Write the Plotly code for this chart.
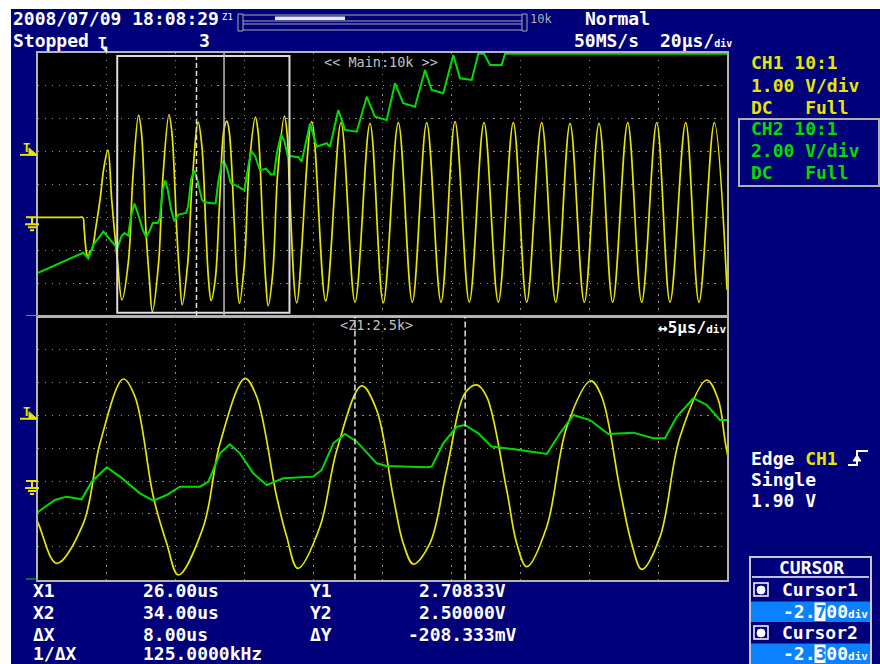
import plotly.graph_objects as go

# ---------------- acquisition record (time in µs from trigger, volts) ----------------
ch1_t = [-20.0, -12.0, -8.0, -7.0, -6.6, -5.9, -5.4, -4.9, -4.4, -3.2, -2.0, -0.9, 0.3, 1.4, 3.02,
         4.36, 6.29, 7.50, 9.19, 10.04, 11.37,
         12.34, 13.18, 15.0, 16.21, 18.02, 18.87, 20.32, 21.05, 21.85, 23.46, 24.68, 26.49,
         27.58, 28.78, 29.51, 30.24, 31.45, 32.66, 33.99, 34.84, 35.56, 37.01, 37.74, 38.47,
         39.92, 41.37, 43.11, 43.91, 45.24, 46.08, 46.81, 48.14, 49.59, 51.53, 52.37, 52.98,
         55.1, 59.45, 63.51, 67.95, 72.02, 76.37, 80.23, 84.59, 88.65, 92.83, 96.98, 101.05,
         105.2, 109.46, 113.62, 117.97, 121.86, 126.21, 130.28, 134.43, 138.58, 142.85,
         146.82, 151.18, 155.24, 159.6, 163.46, 168.01, 171.87, 176.32, 180.0]
ch1_v = [0.0, 0.0, 0.0, 0.0, -0.35, -1.10, -1.24, -1.02, -0.99, -0.30, 0.53, 1.50, 2.05, 0.53, -1.29,
         -2.51, -1.29, 1.15, 3.11, 2.57, -0.48,
         -1.90, -2.86, -1.39, 1.15, 3.13, 2.57, -0.48, -1.70, -2.66, -1.39, 0.94, 2.90,
         2.16, -0.48, -1.90, -2.53, -1.89, 0.34, 2.68, 2.93, 2.57, -0.27, -1.90, -2.61,
         -1.39, 1.65, 3.05, 2.57, -0.27, -1.90, -2.69, -1.70, 1.35, 3.08, 2.47, 0.94,
         -2.60, 2.91, -2.54, 2.88, -2.58, 2.86, -2.60, 2.88, -2.58, 2.88, -2.58, 2.91,
         -2.58, 2.88, -2.58, 2.88, -2.58, 2.88, -2.58, 2.86, -2.58, 2.86,
         -2.58, 2.88, -2.58, 2.88, -2.58, 2.88, -2.58, 2.88, -2.20]

ch2_t = [-20.0, -6.85, -5.4, -3.95, -1.04, 2.35, 3.02, 4.23, 5.08, 6.17, 6.90, 7.99, 8.95, 10.40,
         11.37, 12.34, 13.30, 14.76, 15.36, 16.21, 16.93, 17.66, 18.62, 19.6, 20.80, 22.98,
         23.59, 24.43, 25.28, 26.13, 27.58, 28.31, 31.21, 31.57, 32.41, 33.39, 33.99, 34.95,
         35.92, 37.98, 39.92, 40.88, 41.85, 43.06, 44.39, 46.20, 47.65, 48.50, 49.35, 50.56,
         51.53, 52.49, 53.15, 55.56, 56.55, 58.96, 60.90, 63.80, 64.76, 67.17, 69.12, 72.51,
         75.42, 77.82, 81.22, 83.63, 86.04, 89.44, 92.34, 94.28, 97.65, 100.55, 102.5, 105.89,
         107.81, 109.5, 111.21, 114.6, 115.56, 180.0]
ch2_v = [2.63, 3.85, 3.51, 4.32, 5.13, 4.32, 4.13, 4.85, 5.05, 4.89, 5.96, 6.84, 6.27, 5.25,
         4.80, 5.15, 5.66, 5.66, 5.96, 7.69, 8.24, 7.69, 6.47, 5.76, 6.17, 6.27,
         6.68, 8.30, 8.87, 8.40, 7.08, 6.92, 6.84, 6.88, 8.30, 9.31, 9.42, 8.91,
         8.10, 7.89, 7.65, 8.91, 10.03, 9.72, 8.87, 8.95, 8.61, 8.61, 9.92, 11.05,
         10.64, 9.72, 9.73, 9.66, 9.39, 11.72, 10.30, 10.51, 10.30, 12.53, 11.32, 11.21,
         13.34, 12.13, 11.92, 14.16, 12.94, 12.73, 14.97, 13.75, 13.55, 15.88, 14.46, 14.36,
         15.95, 15.95, 15.27, 15.27, 15.95, 15.95]

main_window = [-20.0, 180.0]      # 20 µs/div, 10 div
zoom_start = 3.0
zoom_span = 50.0                  # 5 µs/div, 10 div
cursor_x = [26.0, 34.0]
cursor_y = [2.708333, 2.500000]
cursor_div = ["-2.700", "-2.300"]
trigger_level = 1.90
ch1_window = [-3.0, 5.0]          # 1 V/div, ground one division below centre
ch2_window = [0.0, 16.0]          # 2 V/div, ground at bottom edge

# ---------------- screen styling ----------------
W, H = 880, 664
NAVY = "#00007a"
YEL = "#e6e600"
GRN = "#00dc00"
GRAY = "#b4b4b4"
HILITE = "#0a82ff"
MONO = "DejaVu Sans Mono"


def X(px):
    return px / W


def Y(py):
    return 1 - py / H


xdom = [X(38), X(727)]
top_dom = [Y(316), Y(53)]
bot_dom = [Y(579.5), Y(317)]

fig = go.Figure()
for xa, ya1, ya2 in [("x", "y", "y2"), ("x2", "y3", "y4")]:
    fig.add_trace(go.Scatter(x=ch1_t, y=ch1_v, xaxis=xa, yaxis=ya1, mode="lines",
                             line=dict(color=YEL, width=1.7, shape="spline", smoothing=1),
                             hoverinfo="skip", showlegend=False))
    fig.add_trace(go.Scatter(x=ch2_t, y=ch2_v, xaxis=xa, yaxis=ya2, mode="lines",
                             line=dict(color=GRN, width=2),
                             hoverinfo="skip", showlegend=False))

grid = dict(showgrid=True, gridcolor="#8f8f8f", gridwidth=1.3, griddash="1.3px,5.6px",
            zeroline=False, showticklabels=False, ticks="", showline=True,
            linecolor=GRAY, linewidth=2, mirror=True, fixedrange=True, layer="below traces")

shapes = []
ann = []


def txt(s, x, y, size=18, color="#ffffff", anchor="left", weight="bold", family=MONO, pad=1):
    ann.append(dict(text=s, x=X(x), y=Y(y), xref="paper", yref="paper", xanchor=anchor,
                    yanchor="middle", showarrow=False, borderpad=pad,
                    font=dict(family=family, size=size, color=color, weight=weight)))


def rect(x0, y0, x1, y1, line=None, fill=None, width=1):
    shapes.append(dict(type="rect", xref="paper", yref="paper", x0=X(x0), x1=X(x1),
                       y0=Y(y1), y1=Y(y0), fillcolor=fill or "rgba(0,0,0,0)",
                       line=dict(color=line or "rgba(0,0,0,0)", width=width if line else 0)))


def seg(x0, y0, x1, y1, color, width=1):
    shapes.append(dict(type="line", xref="paper", yref="paper", x0=X(x0), x1=X(x1),
                       y0=Y(y0), y1=Y(y1), line=dict(color=color, width=width)))


# white frame around the captured screen
rect(0, 0, 11, H, fill="#ffffff")
rect(0, 0, W, 9, fill="#ffffff")

# zoom window and cursors
shapes.append(dict(type="rect", xref="x", yref="y domain", x0=zoom_start, x1=zoom_start + zoom_span,
                   y0=0.0125, y1=0.9886, line=dict(color="#dcdcdc", width=2)))
shapes.append(dict(type="line", xref="x", yref="y domain", x0=cursor_x[0], x1=cursor_x[0],
                   y0=0, y1=1, line=dict(color="#e0e0e0", width=1.5, dash="5px,3px")))
shapes.append(dict(type="line", xref="x", yref="y domain", x0=cursor_x[1], x1=cursor_x[1],
                   y0=0, y1=1, line=dict(color="#bdbdbd", width=1.5)))
for cx in cursor_x:
    shapes.append(dict(type="line", xref="x2", yref="y3 domain", x0=cx, x1=cx,
                       y0=0, y1=1, line=dict(color="#e0e0e0", width=1.5, dash="6px,3px")))


# ground and trigger-level markers at the left edge of each graticule
def ground(yref, color):
    path = "M-12,0 L0,0 M-6,0 L-6,-7 M-13,-7 L1,-7 M-10,-10 L-2,-10 M-8,-13 L-4,-13"
    shapes.append(dict(type="path", xref="paper", yref=yref, xsizemode="pixel",
                       ysizemode="pixel", xanchor=X(38), yanchor=0, path=path,
                       line=dict(color=color, width=2)))


def trig(yref):
    shapes.append(dict(type="path", xref="paper", yref=yref, xsizemode="pixel",
                       ysizemode="pixel", xanchor=X(38), yanchor=trigger_level,
                       path="M-18,0 L-1,0", line=dict(color=YEL, width=2)))
    shapes.append(dict(type="path", xref="paper", yref=yref, xsizemode="pixel",
                       ysizemode="pixel", xanchor=X(38), yanchor=trigger_level,
                       path="M-9,7 L-9,0 L-1,0 Z", fillcolor=YEL, line=dict(color=YEL, width=1)))
    ann.append(dict(text="T", x=X(26), y=trigger_level, xref="paper", yref=yref,
                    xanchor="center", yanchor="middle", yshift=7, showarrow=False,
                    font=dict(family=MONO, size=12, color=YEL, weight="bold")))


ground("y", YEL)
ground("y3", YEL)
ground("y2", GRN)
ground("y4", GRN)
trig("y")
trig("y3")

# trigger position marker above the main graticule
shapes.append(dict(type="path", xref="x", yref="paper", xsizemode="pixel", ysizemode="pixel",
                   xanchor=0, yanchor=Y(52), path="M-6,5 L0,5 L0,0 Z",
                   fillcolor="#ffffff", line=dict(color="#ffffff", width=1)))
ann.append(dict(text="T", x=0, y=Y(42), xref="x", yref="paper", xanchor="center",
                yanchor="middle", xshift=-5, showarrow=False,
                font=dict(family=MONO, size=14, color="#ffffff", weight="bold")))

# zoom position bar
rect(238, 14, 243, 31, line="#a8a8a8")
rect(522, 14, 527, 31, line="#a8a8a8")
for yy in (15, 21, 24, 30):
    seg(243, yy, 522, yy, "#a8a8a8", 1.2)
rect(275, 16.5, 345, 20, fill="#e8e8e8")

# CH2 settings frame
rect(739, 119, 879, 186, line="#b0b0b0", width=2)

# trigger slope symbol
shapes.append(dict(type="path", xref="paper", yref="paper",
                   path=f"M{X(848)},{Y(465)} L{X(857)},{Y(465)} L{X(857)},{Y(451)} L{X(868)},{Y(451)}",
                   line=dict(color="#ffffff", width=2)))
shapes.append(dict(type="path", xref="paper", yref="paper",
                   path=f"M{X(853)},{Y(461)} L{X(857)},{Y(455)} L{X(861)},{Y(461)} Z",
                   fillcolor="#ffffff", line=dict(color="#ffffff", width=1)))

# cursor menu
rect(750, 557, 871, 664, fill=NAVY, line="#c8c8c8", width=2)
seg(752, 577, 869, 577, "#ffffff", 1.5)
for i, (ry, hy) in enumerate([(589, 611), (632, 653)]):
    rect(754, ry - 6, 768, ry + 7, line="#ffffff", width=1.5)
    shapes.append(dict(type="circle", xref="paper", yref="paper", x0=X(757), x1=X(765),
                       y0=Y(ry + 5), y1=Y(ry - 3), fillcolor="#ffffff",
                       line=dict(color="#ffffff", width=1)))
    rect(751, hy - 9.5, 870, hy + 11, fill=HILITE)
    rect(814.5, hy - 8.5, 825.5, hy + 10, fill="#ffffff")
    txt(f"Cursor{i + 1}", 781, ry, pad=0)
    d = cursor_div[i]
    txt(f"{d[:3]}<span style='color:{HILITE}'>{d[3]}</span>{d[4:]}"
        "<span style='font-size:11px'>div</span>", 782, hy, pad=0)
txt("CURSOR", 811, 567, anchor="center", pad=0)

# header
txt("2008/07/09 18:08:29", 11, 18)
txt("Z1", 220, 17, size=9, weight="normal")
txt("10k", 528, 19, size=12, color="#b0b0b0", weight="normal")
txt("Normal", 583, 18)
txt("Stopped", 11, 41)
txt("3", 197, 41)
txt("50MS/s", 572, 41)
txt("20μs/<span style='font-size:10px'>div</span>", 658, 41)

# channel settings
txt("CH1 10:1", 749, 63, color=YEL)
txt("1.00 V/div", 749, 85, color=YEL)
txt("DC   Full", 749, 107, color=YEL)
txt("CH2 10:1", 749, 129, color=GRN)
txt("2.00 V/div", 749, 150, color=GRN)
txt("DC   Full", 749, 172, color=GRN)

# trigger settings
txt(f"Edge <span style='color:{YEL}'>CH1</span>", 749, 458)
txt("Single", 749, 479)
txt(f"{trigger_level:.2f} V", 749, 501)

# graticule captions
txt("<< Main:10k >>", 322, 62, size=13.5, color="#c0c0c0", weight="normal")
txt("<Z1:2.5k>", 338, 325, size=13.5, color="#c0c0c0", weight="normal")
txt("↔5μs/<span style='font-size:11px'>div</span>", 728, 327, size=16, anchor="right")

# cursor measurements
dx = cursor_x[1] - cursor_x[0]
dy_mv = (cursor_y[1] - cursor_y[0]) * 1000
rows = [
    ("X1", f"{cursor_x[0]:.2f}us", "Y1", f"{cursor_y[0]:.5f}V", 418),
    ("X2", f"{cursor_x[1]:.2f}us", "Y2", f"{cursor_y[1]:.5f}V", 418),
    ("ΔX", f"{dx:.2f}us", "ΔY", f"{dy_mv:.3f}mV", 407),
    ("1/ΔX", f"{1000 / dx:.4f}kHz", "", "", 418),
]
for (lab, val, ylab, yval, yx), ry in zip(rows, [590, 612, 634, 653]):
    txt(lab, 32, ry, pad=0)
    txt(val, 142, ry, pad=0)
    if ylab:
        txt(ylab, 309, ry, pad=0)
        txt(yval, yx, ry, pad=0)

fig.update_layout(
    width=W, height=H, margin=dict(l=0, r=0, t=0, b=0),
    paper_bgcolor=NAVY, plot_bgcolor="#000000", showlegend=False,
    xaxis=dict(domain=xdom, range=main_window, dtick=20, tick0=main_window[0], anchor="y", **grid),
    yaxis=dict(domain=top_dom, range=ch1_window, dtick=1, tick0=ch1_window[0], anchor="x", **grid),
    yaxis2=dict(overlaying="y", range=ch2_window, visible=False, anchor="x", fixedrange=True),
    xaxis2=dict(domain=xdom, range=[zoom_start, zoom_start + zoom_span], dtick=5, tick0=zoom_start,
                anchor="y3", **grid),
    yaxis3=dict(domain=bot_dom, range=ch1_window, dtick=1, tick0=ch1_window[0], anchor="x2", **grid),
    yaxis4=dict(overlaying="y3", range=ch2_window, visible=False, anchor="x2", fixedrange=True),
    shapes=shapes, annotations=ann,
)

fig.write_html("out.html")
